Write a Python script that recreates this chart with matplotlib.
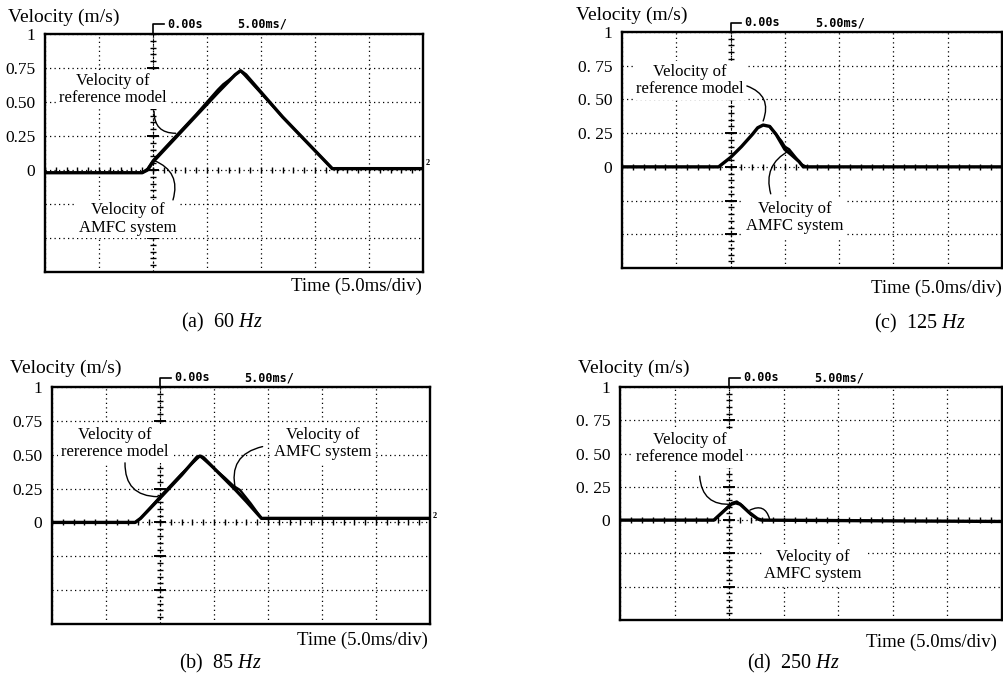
import numpy as np
import matplotlib
matplotlib.use("Agg")
import matplotlib.pyplot as plt

plt.rcParams['font.family'] = ['Liberation Serif', 'DejaVu Serif']
plt.rcParams['mathtext.fontset'] = 'custom'
plt.rcParams['mathtext.rm'] = 'Liberation Serif'
plt.rcParams['mathtext.it'] = 'Liberation Serif:italic'

## Data (time in ms relative to trigger, velocity in m/s)

y_ticks = [-0.75, -0.5, -0.25, 0, 0.25, 0.5, 0.75, 1]
y_labels_ab = ['', '', '', '0', '0.25', '0.50', '0.75', '1']
y_labels_cd = ['', '', '', '0', '0. 25', '0. 50', '0. 75', '1']

# (a) 60 Hz
t_a_ref = [-10, -1.0, -0.5, 0.0, 2.0, 4.0, 6.0, 7.6, 8.1, 8.6, 12.0, 16.6, 20.0, 25.0]
v_a_ref = [-0.02, -0.02, 0.0, 0.06, 0.23, 0.40, 0.57, 0.70, 0.73, 0.70, 0.39, 0.01, 0.01, 0.01]
t_a_amfc = [-1.0, -0.5, 0.0, 2.0, 4.0, 6.0, 6.5, 7.0, 8.1, 12.0, 16.6]
v_a_amfc = [-0.02, 0.01, 0.07, 0.24, 0.41, 0.59, 0.63, 0.66, 0.73, 0.39, 0.01]

# (b) 85 Hz
t_b_ref = [-10, -2.3, -1.8, 0.0, 2.0, 3.4, 3.7, 4.0, 6.0, 7.0, 8.0, 9.4, 10.0, 25.0]
v_b_ref = [0.0, 0.0, 0.03, 0.18, 0.35, 0.48, 0.49, 0.48, 0.32, 0.24, 0.155, 0.03, 0.03, 0.03]
t_b_amfc = [-2.3, -1.8, 0.0, 2.0, 3.7, 6.0, 6.8, 7.4, 8.4, 9.4]
v_b_amfc = [0.0, 0.03, 0.19, 0.36, 0.49, 0.33, 0.27, 0.24, 0.14, 0.03]

# (c) 125 Hz
t_c_ref = [-10, -1.1, 0.0, 1.0, 2.0, 2.5, 3.0, 3.6, 4.2, 5.0, 5.6, 6.3, 6.7, 8.0, 25.0]
v_c_ref = [0.0, 0.0, 0.07, 0.15, 0.24, 0.29, 0.31, 0.30, 0.24, 0.13, 0.09, 0.04, 0.0, 0.0, 0.0]
t_c_amfc = [3.6, 4.2, 4.7, 5.0, 5.4, 5.9, 6.5, 7.0]
v_c_amfc = [0.30, 0.24, 0.19, 0.15, 0.13, 0.08, 0.02, 0.0]

# (d) 250 Hz
t_d_ref = [-10, -1.4, -0.6, 0.2, 0.6, 1.0, 1.8, 2.6, 3.0, 25.0]
v_d_ref = [0.0, 0.0, 0.06, 0.12, 0.13, 0.12, 0.06, 0.01, 0.0, -0.01]
t_d_amfc = [-1.4, -0.5, 0.3, 0.7, 1.2, 2.0, 2.8]
v_d_amfc = [0.0, 0.07, 0.13, 0.14, 0.11, 0.04, 0.0]

W, H = 1004, 686
fig = plt.figure(figsize=(W / 100, H / 100), dpi=100)


def px_box(left, top, right, bottom):
    return [left / W, 1 - bottom / H, (right - left) / W, (bottom - top) / H]


def fig_text(x, y, s, **kw):
    fig.text(x / W, 1 - y / H, s, **kw)


TXT_BOX = dict(facecolor='white', edgecolor='none', pad=2.0)


def draw_scope(ax, t_ref, v_ref, t_amfc, v_amfc, ylabels, marker2=True):
    ax.set_xlim(-10, 25)
    ax.set_ylim(-0.75, 1)
    ax.set_xticks(np.arange(-10, 26, 5))
    ax.set_xticklabels([])
    ax.set_yticks(y_ticks)
    ax.set_yticklabels(ylabels, fontsize=12.5)
    ax.tick_params(length=0, pad=7)
    ax.set_axisbelow(True)
    ax.grid(True, color='black', lw=0.9, linestyle=(0, (1, 2.6)))
    for sp in ax.spines.values():
        sp.set_linewidth(1.7)

    # trigger column and zero-row graticule ticks
    yy = np.arange(-0.75, 1.001, 0.05)
    ax.plot(np.zeros_like(yy), yy, ls='', marker='_', ms=5, mew=1.0, color='k', zorder=1.5)
    ax.plot(np.zeros(len(y_ticks)), y_ticks, ls='', marker='_', ms=9, mew=1.4, color='k', zorder=1.5)
    ax.axvline(0, color='k', lw=0.8, ls=(0, (2, 2)), zorder=1.4)
    xx = np.arange(-10, 25.01, 1.0)
    ax.plot(xx, np.zeros_like(xx), ls='', marker='|', ms=4, mew=1.0, color='k', zorder=1.5)

    ax.plot(t_ref, v_ref, color='black', lw=2.4, solid_capstyle='round',
            solid_joinstyle='round', zorder=4)
    ax.plot(t_amfc, v_amfc, color='black', lw=1.7, solid_capstyle='round',
            solid_joinstyle='round', zorder=4)

    # scope header
    tr = ax.get_xaxis_transform()
    ax.plot([0, 0, 1.0], [1.0, 1.04, 1.04], color='k', lw=1.2, transform=tr, clip_on=False)
    ax.text(1.3, 1.04, '0.00s', transform=tr, fontsize=8.5, family='DejaVu Sans Mono',
            weight='bold', va='center', ha='left')
    ax.text(7.8, 1.04, '5.00ms/', transform=tr, fontsize=8.5, family='DejaVu Sans Mono',
            weight='bold', va='center', ha='left')
    if marker2:
        ax.text(1.008, 0.05, '2', transform=ax.get_yaxis_transform(), fontsize=6,
                weight='bold', va='center', ha='left')


def label(ax, x, y, s):
    ax.text(x, y, s, fontsize=12, ha='center', va='center', linespacing=1.1,
            bbox=TXT_BOX, zorder=3)


def leader(ax, start, end, rad):
    ax.annotate('', xy=end, xytext=start,
                arrowprops=dict(arrowstyle='-', lw=1.0, color='k',
                                connectionstyle=f'arc3,rad={rad}', shrinkA=0, shrinkB=0),
                zorder=3.5)


# (a)
ax_a = fig.add_axes(px_box(45, 34, 423, 272))
draw_scope(ax_a, t_a_ref, v_a_ref, t_a_amfc, v_a_amfc, y_labels_ab)
label(ax_a, -3.7, 0.59, 'Velocity of\nreference model')
label(ax_a, -2.3, -0.36, 'Velocity of\nAMFC system')
leader(ax_a, (0.1, 0.43), (2.1, 0.27), 0.5)
leader(ax_a, (1.85, -0.22), (0.1, 0.07), 0.45)
fig_text(8, 17, 'Velocity (m/s)', fontsize=14, va='center', ha='left')
fig_text(422, 286, 'Time (5.0ms/div)', fontsize=13.5, va='center', ha='right')
fig_text(222, 322, r'(a)  60 $\mathit{Hz}$', fontsize=14.5, va='center', ha='center')

# (b)
ax_b = fig.add_axes(px_box(52, 387, 430, 624))
draw_scope(ax_b, t_b_ref, v_b_ref, t_b_amfc, v_b_amfc, y_labels_ab)
label(ax_b, -4.2, 0.585, 'Velocity of\nrererence model')
label(ax_b, 15.1, 0.585, 'Velocity of\nAMFC system')
leader(ax_b, (-3.24, 0.44), (-0.19, 0.19), 0.5)
leader(ax_b, (9.5, 0.56), (7.0, 0.24), 0.5)
fig_text(10, 368, 'Velocity (m/s)', fontsize=14, va='center', ha='left')
fig_text(428, 640, 'Time (5.0ms/div)', fontsize=13.5, va='center', ha='right')
fig_text(220, 663, r'(b)  85 $\mathit{Hz}$', fontsize=14.5, va='center', ha='center')

# (c)
ax_c = fig.add_axes(px_box(622, 32, 1002, 268))
draw_scope(ax_c, t_c_ref, v_c_ref, t_c_amfc, v_c_amfc, y_labels_cd, marker2=False)
label(ax_c, -3.8, 0.64, 'Velocity of\nreference model')
label(ax_c, 5.9, -0.375, 'Velocity of\nAMFC system')
leader(ax_c, (1.5, 0.6), (3.0, 0.34), -0.5)
leader(ax_c, (3.7, -0.2), (5.4, 0.12), -0.4)
fig_text(576, 15, 'Velocity (m/s)', fontsize=14, va='center', ha='left')
fig_text(1002, 288, 'Time (5.0ms/div)', fontsize=13.5, va='center', ha='right')
fig_text(920, 323, r'(c)  125 $\mathit{Hz}$', fontsize=14.5, va='center', ha='center')

# (d)
ax_d = fig.add_axes(px_box(620, 387, 1002, 620))
draw_scope(ax_d, t_d_ref, v_d_ref, t_d_amfc, v_d_amfc, y_labels_cd, marker2=False)
label(ax_d, -3.6, 0.54, 'Velocity of\nreference model')
label(ax_d, 7.7, -0.34, 'Velocity of\nAMFC system')
leader(ax_d, (-2.7, 0.33), (0.27, 0.12), 0.5)
leader(ax_d, (3.7, 0.01), (1.9, 0.075), 0.6)
fig_text(578, 368, 'Velocity (m/s)', fontsize=14, va='center', ha='left')
fig_text(997, 642, 'Time (5.0ms/div)', fontsize=13.5, va='center', ha='right')
fig_text(793, 663, r'(d)  250 $\mathit{Hz}$', fontsize=14.5, va='center', ha='center')

fig.savefig('out.png', dpi=100)
